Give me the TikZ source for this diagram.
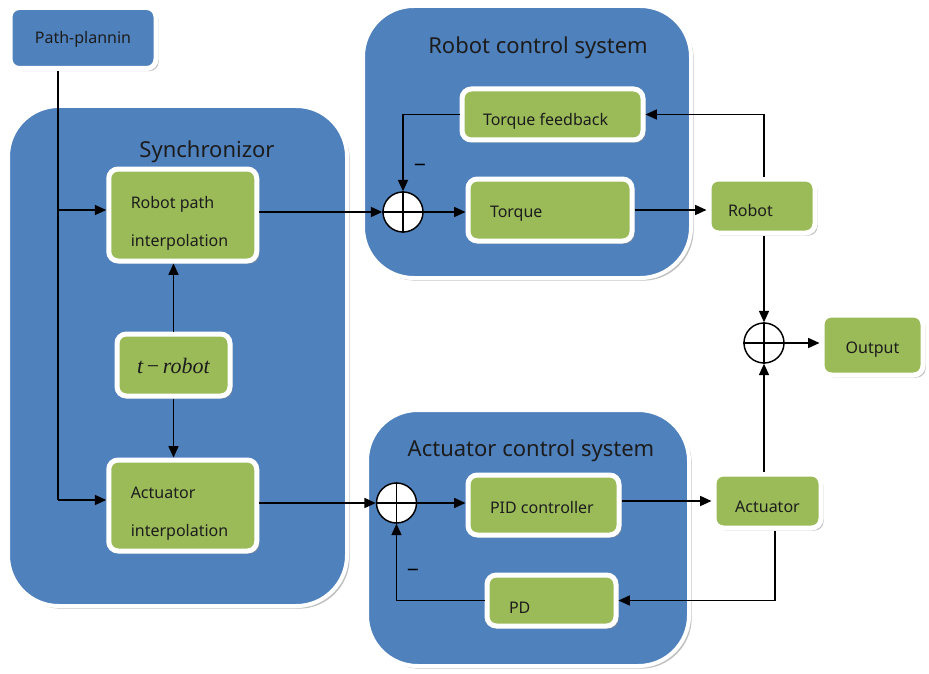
\documentclass[tikz,border=0pt]{standalone}
\usepackage{fontspec}
\setmainfont{Noto Sans}
\newfontfamily\tnr{Liberation Serif}
\usetikzlibrary{arrows.meta,shadows,calc}
\definecolor{sysblue}{HTML}{4F81BD}
\definecolor{boxgreen}{HTML}{9BBB59}
\definecolor{txt}{HTML}{1C1C1C}
% centred text, baseline #1 below node centre
\newcommand\ctxt[2]{\raisebox{-#1}[0pt][0pt]{#2}}
% left-aligned text in a box of width #2
\newcommand\ltxt[3]{\raisebox{-#1}[0pt][0pt]{\makebox[#2][l]{#3}}}
\tikzset{
  shad/.style={drop shadow={shadow xshift=2pt,shadow yshift=-2pt,fill=black!45,opacity=0.55}},
  bigbox/.style={draw=white,line width=3pt,fill=sysblue,rounded corners=38pt,shad},
  gbox/.style={draw=white,line width=3.75pt,fill=boxgreen,rounded corners=7pt,shad,
    text=txt,font=\fontsize{12}{28.5}\selectfont,inner ysep=0pt},
  bbox/.style={draw=white,line width=3.75pt,fill=sysblue,rounded corners=7pt,shad,
    text=txt,font=\fontsize{12}{14}\selectfont,inner ysep=0pt},
  title/.style={text=txt,font=\fontsize{16.5}{19}\selectfont},
  sumc/.style={circle,draw=black,fill=white,line width=1.1pt,minimum size=30pt,inner sep=0pt},
  arr/.style={draw=black,line width=1.1pt,-{Triangle[length=8.5pt,width=7.5pt]}},
  ln/.style={draw=black,line width=1.1pt},
  minus/.style={text=black,font=\fontsize{16}{16}\selectfont\bfseries}
}
\begin{document}
\begin{tikzpicture}[x=0.75pt,y=-0.75pt]
\useasboundingbox (0,0) rectangle (929,674);
% big boxes
\node[bigbox,minimum width=254.25pt,minimum height=375pt] (sync) at (177.5,356) {};
\node[bigbox,minimum width=246pt,minimum height=204pt] (rcs) at (527,142) {};
\node[bigbox,minimum width=241.5pt,minimum height=192pt] (acs) at (528,538) {};
\node[title] (synct) at (207,152) {Synchronizor};
\node[title] (rcst) at (538,48) {Robot control system};
\node[title] (acst) at (531,451) {Actuator control system};
% small boxes
\node[bbox,minimum width=109.5pt,minimum height=45.75pt] (path) at (83,38) {\ctxt{4.5pt}{Path-plannin}};
\node[gbox,minimum width=111pt,minimum height=69pt,inner xsep=16.5pt] (rpi) at (182.75,215)
  {\raisebox{5.25pt}[0pt][0pt]{\parbox[t]{78pt}{Robot path\\interpolation}}};
\node[gbox,minimum width=84.75pt,minimum height=46.5pt,font=\fontsize{16.5}{18}\selectfont\tnr] (trobot) at (173.5,365)
  {\ctxt{6pt}{\itshape t\,\upshape{−}\,\itshape robot}};
\node[gbox,minimum width=111pt,minimum height=68.25pt,inner xsep=16.5pt] (api) at (182.75,505.5)
  {\raisebox{4.9pt}[0pt][0pt]{\parbox[t]{78pt}{Actuator\\interpolation}}};
\node[gbox,minimum width=135.75pt,minimum height=38.25pt,inner xsep=15.75pt] (tfb) at (552.5,114.5) {\ltxt{8.6pt}{104.25pt}{Torque feedback}};
\node[gbox,minimum width=123pt,minimum height=46.5pt,inner xsep=16.5pt] (torque) at (550,210) {\ltxt{5.25pt}{90pt}{Torque}};
\node[gbox,minimum width=79.5pt,minimum height=40.5pt,inner xsep=14.25pt] (robot) at (762,206) {\ltxt{7.5pt}{51pt}{Robot}};
\node[gbox,minimum width=75.75pt,minimum height=45pt] (output) at (872.5,345) {\ctxt{6pt}{Output}};
\node[gbox,minimum width=80.25pt,minimum height=40.5pt] (actuator) at (767.5,501) {\ctxt{8.25pt}{Actuator}};
\node[gbox,minimum width=113.25pt,minimum height=45pt,inner xsep=16.5pt] (pid) at (543.5,505) {\ltxt{6pt}{80.25pt}{PID controller}};
\node[gbox,minimum width=96.75pt,minimum height=38.25pt,inner xsep=16.5pt] (pd) at (551.5,600.5) {\ltxt{9.4pt}{63.75pt}{PD}};
% summing junctions
\node[sumc] (s1) at (403,212) {};
\node[sumc] (s2) at (764,343) {};
\node[sumc] (s3) at (396.5,503) {};
\foreach \s in {s1,s2,s3}{
  \draw[ln] (\s.north) -- (\s.south) (\s.west) -- (\s.east);
}
\node[minus] (m1) at (420,168) {−};
\node[minus] (m3) at (413,573) {−};
% coordinates
\coordinate (ja) at (58,210);
\coordinate (jb) at (58,500);
\coordinate (adn) at (775,600);
% connectors
\draw[ln] (path.south -| ja) -- (jb);
\draw[arr] (ja) -- (rpi.west |- ja);
\draw[arr] (jb) -- (api.west |- jb);
\draw[arr] (trobot.north) -- (trobot.north |- rpi.south);
\draw[arr] (trobot.south) -- (trobot.south |- api.north);
\draw[arr] (rpi.east |- s1) -- (s1.west);
\draw[arr] (s1.east) -- (torque.west |- s1);
\draw[arr] (torque.east) -- (robot.west |- torque.east);
\draw[arr] (robot.north -| s2) |- (tfb.east);
\draw[arr] (tfb.west) -| (s1.north);
\draw[arr] (robot.south -| s2) -- (s2.north);
\draw[arr] (actuator.north -| s2) -- (s2.south);
\draw[arr] (s2.east) -- (output.west |- s2);
\draw[arr] (api.east |- s3) -- (s3.west);
\draw[arr] (s3.east) -- (pid.west |- s3);
\draw[arr] (pid.east |- actuator) -- (actuator.west);
\draw[arr] (actuator.south -| adn) |- (pd.east);
\draw[arr] (pd.west) -| (s3.south);
\end{tikzpicture}
\end{document}
